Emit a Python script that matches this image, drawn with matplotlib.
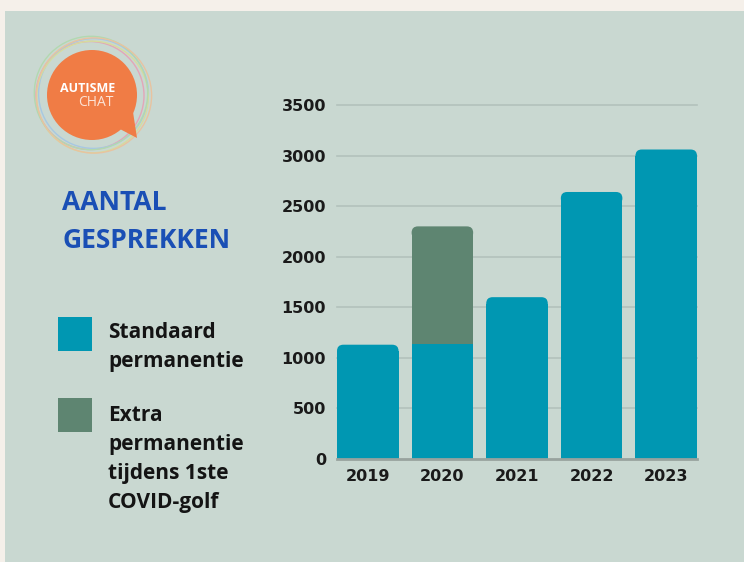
import numpy as np
import matplotlib.pyplot as plt
from matplotlib.patches import Rectangle, Circle, Polygon, FancyBboxPatch

# data
years = ['2019', '2020', '2021', '2022', '2023']
standaard = [1130, 1140, 1600, 2640, 3060]
extra = [0, 1160, 0, 0, 0]
y_ticks = [0, 500, 1000, 1500, 2000, 2500, 3000, 3500]
legend_labels = [['Standaard', 'permanentie'],
                 ['Extra', 'permanentie', 'tijdens 1ste', 'COVID-golf']]

TEAL = '#0097B2'
GREEN = '#5E8571'
PANEL = '#C9D8D1'
OUTER = '#F5F0EA'
BLUE = '#1A4FB5'
ORANGE = '#F07C45'

W, H = 744, 562
fig = plt.figure(figsize=(W / 100, H / 100), dpi=100)
fig.patch.set_facecolor(OUTER)

# background layer in pixel coordinates
bg = fig.add_axes([0, 0, 1, 1])
bg.set_xlim(0, W)
bg.set_ylim(H, 0)
bg.axis('off')
bg.add_patch(Rectangle((5, 11), W, H, color=PANEL, lw=0))

# logo
cx, cy = 92, 95
ring_cols = ['#E3A6B8', '#A7C8E2', '#D6DC9E', '#B2D8B0', '#E8C3A0']
offs = [(-2.0, 0.5), (1.5, -1.5), (0.5, 2.0), (-1.0, -2.0), (2.0, 0.5)]
for i, c in enumerate(ring_cols):
    bg.add_patch(Circle((cx + offs[i][0], cy + offs[i][1]), 54 + i * 0.9,
                        fill=False, ec=c, lw=1.0))
bg.add_patch(Circle((cx, cy), 45, color=ORANGE, lw=0))
bg.add_patch(Polygon([(118, 128), (137, 138), (133, 112)], closed=True, color=ORANGE, lw=0))
bg.text(88, 88, 'AUTISME', color='white', fontsize=9, fontweight='bold',
        family='Open Sans', ha='center', va='center')
bg.text(96, 103, 'CHAT', color='#FCE3D6', fontsize=10, family='Open Sans',
        ha='center', va='center')

# title
bg.text(62, 203, 'AANTAL', color=BLUE, fontsize=19, fontweight='bold',
        family='Open Sans', va='center', ha='left')
bg.text(62, 241, 'GESPREKKEN', color=BLUE, fontsize=19, fontweight='bold',
        family='Open Sans', va='center', ha='left')

# legend
bg.add_patch(Rectangle((58, 317), 34, 34, color=TEAL, lw=0))
bg.add_patch(Rectangle((58, 398), 34, 34, color=GREEN, lw=0))
first_baselines = [338, 421]
for lines, yb in zip(legend_labels, first_baselines):
    for k, line in enumerate(lines):
        bg.text(108, yb + k * 29, line, color='#141414', fontsize=15, fontweight='bold',
                family='Open Sans', va='baseline', ha='left')

# chart
x0, x1, y0, y1 = 337, 697, 105, 459
ax = fig.add_axes([x0 / W, (H - y1) / H, (x1 - x0) / W, (y1 - y0) / H])
ax.set_facecolor('none')
ax.set_xlim(-0.4125, 4.4125)
ax.set_ylim(0, 3500)
for s in ax.spines.values():
    s.set_visible(False)
for t in y_ticks[1:]:
    ax.axhline(t, color='#B3C2BC', lw=1.2, zorder=0, clip_on=False)
ax.axhline(0, color='#98A39E', lw=2, zorder=3, clip_on=False)

width = 0.825
rx = 0.085
px_per_x = (x1 - x0) / 4.825
px_per_y = (y1 - y0) / 3500
ry = rx * px_per_x / px_per_y


def rounded_bar(x, bottom, height, color):
    top = bottom + height
    ax.add_patch(FancyBboxPatch((x - width / 2, top - 2 * ry), width, 2 * ry,
                                boxstyle='round,pad=0,rounding_size=%f' % rx,
                                mutation_aspect=ry / rx, fc=color, ec='none', zorder=2))
    ax.bar(x, height - ry, width=width, bottom=bottom, color=color, zorder=2)


xs = np.arange(len(years))
for i in xs:
    if extra[i] > 0:
        ax.bar(i, standaard[i], width=width, color=TEAL, zorder=2)
        rounded_bar(i, standaard[i], extra[i], GREEN)
    else:
        rounded_bar(i, 0, standaard[i], TEAL)

ax.set_xticks(xs)
ax.set_xticklabels(years)
ax.set_yticks(y_ticks)
ax.tick_params(length=0, labelsize=11.5, colors='#1a1a1a')
ax.tick_params(axis='y', pad=8)
ax.tick_params(axis='x', pad=7)
for lab in ax.get_xticklabels() + ax.get_yticklabels():
    lab.set_fontweight('bold')
    lab.set_family('DejaVu Sans')

fig.savefig('out.png', dpi=100, facecolor=OUTER)
